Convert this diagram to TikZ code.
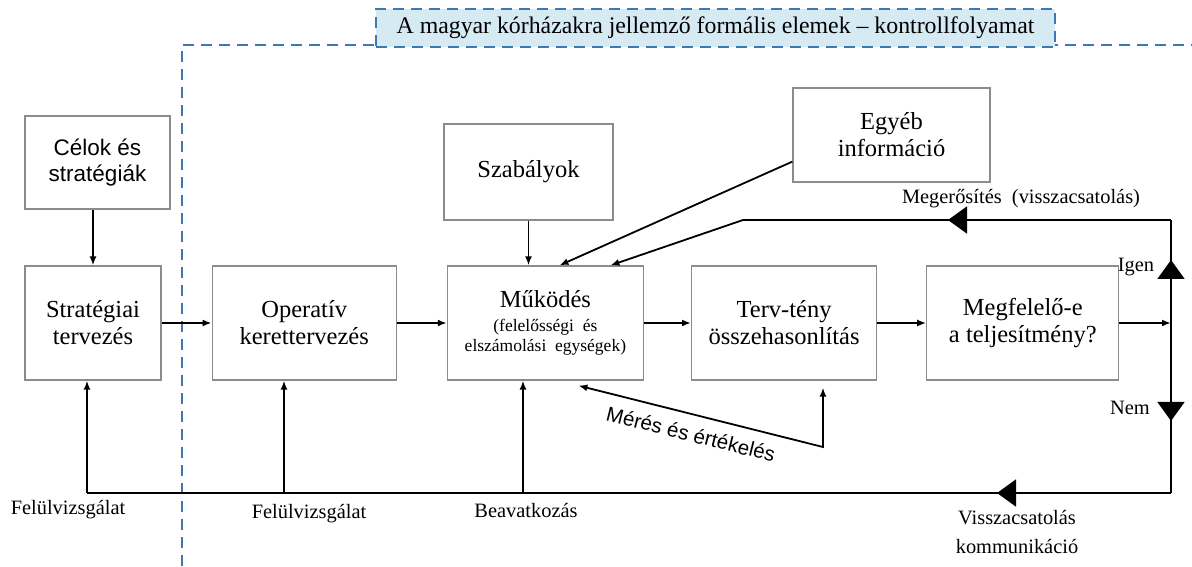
\documentclass[tikz,border=0pt]{standalone}
\usepackage{fontspec}
\setmainfont{Liberation Serif}
\setsansfont{Liberation Sans}
\usetikzlibrary{positioning,arrows.meta,decorations.markings,calc}
\definecolor{dashblue}{RGB}{60,120,178}
\definecolor{titlefill}{RGB}{214,234,243}
\definecolor{boxgray}{RGB}{140,140,140}
\newcommand\mukfont{\fontsize{17.5}{20}\selectfont}

\begin{document}
\begin{tikzpicture}[x=1pt,y=-1pt,node distance=48pt,
                    thick,main node/.style={rectangle,draw=boxgray,line width=1.2pt,inner sep=2pt,
                      align=center,minimum height=114pt,font=\fontsize{24.5}{27}\selectfont},
                    top node/.style={main node,minimum height=0pt},
                    flow/.style={-{Latex[length=9pt,width=7pt]},line width=1.8pt},
                    mid tri/.style={line width=1.8pt,postaction={decorate},
                      decoration={markings,mark=at position #1 with {\arrow{Triangle[length=19pt,width=27pt]}}}},
                    label node/.style={font=\fontsize{20.4}{23}\selectfont,inner sep=1pt}]

  \useasboundingbox (0,0) rectangle (1192,566);
  \draw[dashblue,line width=2pt,dash pattern=on 11pt off 7pt] (182,566) -- (182,45) -- (1192,45);
  \node[draw=dashblue,fill=titlefill,line width=2pt,dash pattern=on 11pt off 7pt,
        minimum width=679pt,minimum height=38pt,font=\fontsize{23.8}{27}\selectfont] (title) at (715.5,28)
        {A magyar kórházakra jellemző formális elemek -- kontrollfolyamat};

  \node[main node,minimum width=136pt] (strat) at (93,323) {Stratégiai\\tervezés};
  \node[main node,minimum width=184pt] (oper) [right=50pt of strat] {Operatív\\kerettervezés};
  \node[main node,minimum width=196pt] (muk) [right=50pt of oper]
        {Működés\\[-3pt]{\mukfont(felelősségi \ és}\\[-7pt]{\mukfont elszámolási \ egységek)}};
  \node[main node,minimum width=185pt] (terv) [right=47pt of muk] {Terv-tény\\összehasonlítás};
  \node[main node,minimum width=192pt] (megf) [right=49pt of terv] {Megfelelő-e\\a teljesítmény?};

  \node[top node,minimum width=145pt,minimum height=93pt,font=\sffamily\fontsize{22.5}{26}\selectfont]
        (celok) at (97.5,162.5) {Célok és\\stratégiák};
  \node[top node,minimum width=169pt,minimum height=96pt] (szab) at (528.5,172) {Szabályok};
  \node[top node,minimum width=197pt,minimum height=94pt] (egyeb) at (891.5,135) {Egyéb\\információ};

  \coordinate (jn) at (1171,323);
  \coordinate (rt) at (1171,220);
  \coordinate (rb) at (1171,493);
  \coordinate (bend) at (743,220);
  \coordinate (fb1) at (87,493);
  \coordinate (fb2) at (284,493);
  \coordinate (fb3) at (523,493);
  \coordinate (mc) at (823,447);

  \draw[flow] (strat.north |- celok.south) -- (strat.north);
  \draw[flow] (strat.east) -- (oper.west);
  \draw[flow] (oper.east) -- (muk.west);
  \draw[flow] (muk.east) -- (terv.west);
  \draw[flow] (terv.east) -- (megf.west);
  \draw[flow] (megf.east) -- (jn);
  \draw[flow] (szab.south) -- (szab.south |- muk.north);
  \draw[flow] ([yshift=21pt]egyeb.south west) -- ([xshift=14pt]muk.north);

  \draw[mid tri=0.612] (jn) -- (rt);
  \draw[mid tri=0.521] (rt) -- (bend);
  \draw[flow] (bend) -- ([xshift=65pt]muk.north);
  \draw[mid tri=0.576] (jn) -- (rb);
  \draw[mid tri=0.1605] (rb) -- (fb1);
  \draw[flow] (fb1) -- (fb1 |- strat.south);
  \draw[flow] (fb2) -- (fb2 |- oper.south);
  \draw[flow] (fb3) -- (fb3 |- muk.south);
  \draw[flow,{Latex[length=9pt,width=7pt]}-{Latex[length=9pt,width=7pt]}]
    ($(muk.south)+(33,5)$) -- (mc) -- ($(mc |- terv.south)+(0,7)$);

  \node[label node] (felul1) at (68,510) {Felülvizsgálat};
  \node[label node] (felul2) at (309,514) {Felülvizsgálat};
  \node[label node] (beav) at (526,510) {Beavatkozás};
  \node[label node] (meg) at (1021,199) {Megerősítés \ (visszacsatolás)};
  \node[label node] (igen) at (1136,267) {Igen};
  \node[label node] (nem) at (1130,408) {Nem};
  \node[label node,align=center] (vissza) at (1017,532) {Visszacsatolás\\[6pt]kommunikáció};
  \node[label node,font=\sffamily\fontsize{20.5}{23}\selectfont,rotate=-14] (meres) at (691,434)
        {Mérés és értékelés};
\end{tikzpicture}
\end{document}
